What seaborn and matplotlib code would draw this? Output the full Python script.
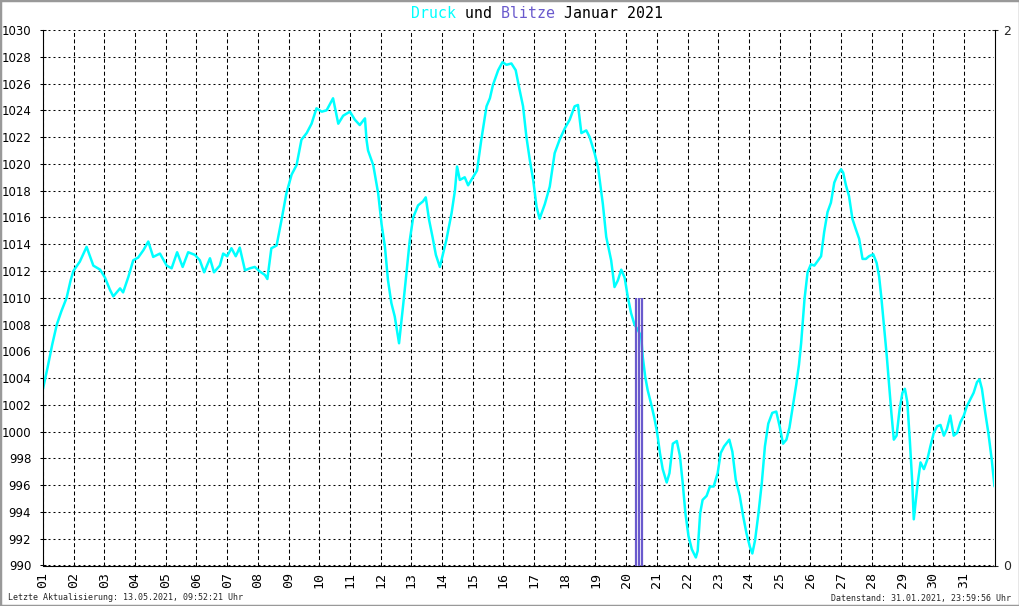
import matplotlib
matplotlib.use("Agg")
import matplotlib.pyplot as plt
import seaborn as sns
from matplotlib.patches import Rectangle

# Luftdruck (hPa), Zeit in Tagen seit 01.01.2021 00:00
druck_zeit = [
    0.00, 0.15, 0.30, 0.45, 0.60, 0.77, 0.90, 0.99, 1.20, 1.42, 1.64, 1.86,
    2.02, 2.18, 2.29, 2.51, 2.61, 2.78, 2.94, 3.10, 3.27, 3.43, 3.59, 3.81,
    4.03, 4.19, 4.37, 4.55, 4.73, 4.95, 5.11, 5.25, 5.44, 5.57, 5.76, 5.87,
    6.00, 6.14, 6.28, 6.41, 6.58, 6.74, 6.90, 7.07, 7.23, 7.31, 7.44, 7.61,
    7.77, 7.93, 8.10, 8.26, 8.42, 8.59, 8.75, 8.91, 9.08, 9.24, 9.45, 9.62,
    9.78, 10.00, 10.16, 10.32, 10.49, 10.54, 10.59, 10.76, 10.92, 11.03, 11.14, 11.24,
    11.35, 11.46, 11.60, 11.75, 11.95, 12.06, 12.22, 12.38, 12.47, 12.58, 12.69, 12.80,
    12.93, 13.14, 13.31, 13.42, 13.49, 13.58, 13.74, 13.85, 14.01, 14.14, 14.28, 14.45,
    14.56, 14.66, 14.83, 14.97, 15.10, 15.26, 15.40, 15.53, 15.64, 15.75, 15.86, 15.97,
    16.08, 16.18, 16.35, 16.51, 16.67, 16.83, 17.00, 17.16, 17.32, 17.43, 17.54, 17.70,
    17.81, 17.97, 18.08, 18.24, 18.35, 18.51, 18.62, 18.73, 18.84, 18.95, 19.05, 19.16,
    19.27, 19.38, 19.49, 19.54, 19.62, 19.70, 19.81, 19.92, 20.01, 20.10, 20.19, 20.32,
    20.41, 20.52, 20.65, 20.75, 20.84, 20.93, 21.03, 21.14, 21.27, 21.33, 21.41, 21.49,
    21.62, 21.73, 21.85, 21.98, 22.08, 22.19, 22.36, 22.46, 22.57, 22.70, 22.81, 22.92,
    23.03, 23.11, 23.20, 23.31, 23.42, 23.52, 23.63, 23.76, 23.89, 24.00, 24.11, 24.22,
    24.32, 24.43, 24.54, 24.63, 24.70, 24.81, 24.91, 25.02, 25.13, 25.24, 25.35, 25.45,
    25.56, 25.67, 25.78, 25.89, 26.00, 26.07, 26.16, 26.26, 26.37, 26.47, 26.59, 26.70,
    26.81, 26.91, 27.05, 27.16, 27.24, 27.31, 27.40, 27.49, 27.56, 27.64, 27.72, 27.81,
    27.91, 28.00, 28.08, 28.16, 28.24, 28.32, 28.37, 28.43, 28.50, 28.59, 28.70, 28.81,
    28.91, 29.02, 29.13, 29.24, 29.35, 29.45, 29.56, 29.67, 29.78, 29.89, 30.00, 30.10,
    30.21, 30.32, 30.43, 30.51, 30.59, 30.70, 30.80, 30.91, 31.00,
]
druck_hpa = [
    1003.2, 1004.8, 1006.5, 1008.0, 1009.0, 1010.0, 1011.3, 1012.0, 1012.7, 1013.8, 1012.4, 1012.1,
    1011.5, 1010.6, 1010.1, 1010.7, 1010.4, 1011.55, 1012.8, 1013.0, 1013.55, 1014.2, 1013.05, 1013.3,
    1012.4, 1012.2, 1013.4, 1012.3, 1013.4, 1013.2, 1012.8, 1011.9, 1012.95, 1011.9, 1012.4, 1013.3,
    1013.1, 1013.7, 1013.1, 1013.75, 1012.05, 1012.2, 1012.3, 1011.95, 1011.7, 1011.4, 1013.7, 1013.9,
    1015.8, 1017.8, 1019.2, 1019.9, 1021.8, 1022.3, 1023.0, 1024.15, 1023.9, 1024.0, 1024.9, 1023.0,
    1023.6, 1023.9, 1023.3, 1022.9, 1023.4, 1021.8, 1021.0, 1019.9, 1017.8, 1015.5, 1013.8, 1011.3,
    1009.6, 1008.6, 1006.6, 1009.8, 1014.3, 1016.0, 1016.9, 1017.2, 1017.5, 1015.8, 1014.55, 1013.2,
    1012.3, 1014.3, 1016.3, 1018.0, 1019.8, 1018.8, 1019.0, 1018.4, 1019.0, 1019.5, 1021.8, 1024.3,
    1024.9, 1025.9, 1027.0, 1027.6, 1027.4, 1027.5, 1027.0, 1025.5, 1024.3, 1022.0, 1020.3, 1018.8,
    1016.8, 1015.9, 1017.0, 1018.3, 1020.8, 1021.8, 1022.65, 1023.3, 1024.3, 1024.4, 1022.3, 1022.5,
    1022.0, 1020.8, 1019.8, 1017.0, 1014.55, 1012.8, 1010.8, 1011.3, 1012.1, 1011.5, 1010.1, 1008.85,
    1008.0, 1007.6, 1007.1, 1005.6, 1004.1, 1003.1, 1002.1, 1001.0, 999.9, 998.4, 997.2, 996.2,
    996.9, 999.1, 999.3, 998.2, 996.2, 993.9, 992.2, 991.2, 990.6, 991.1, 993.9, 994.9,
    995.2, 995.9, 995.9, 996.9, 998.4, 998.9, 999.4, 998.5, 996.4, 995.2, 993.7, 992.4,
    991.4, 990.9, 991.9, 993.9, 996.2, 998.9, 1000.6, 1001.4, 1001.5, 1000.4, 999.1, 999.4,
    1000.3, 1001.9, 1003.5, 1005.0, 1006.6, 1009.9, 1011.9, 1012.5, 1012.4, 1012.75, 1013.1, 1014.9,
    1016.4, 1017.1, 1018.6, 1019.2, 1019.6, 1019.35, 1018.4, 1017.6, 1015.9, 1015.2, 1014.4, 1012.9,
    1012.9, 1013.1, 1013.25, 1012.6, 1011.6, 1010.1, 1007.9, 1005.65, 1003.7, 1001.4, 999.4, 999.7,
    1001.7, 1002.9, 1003.2, 1002.2, 999.4, 996.2, 993.45, 994.7, 996.2, 997.7, 997.2, 997.9,
    998.9, 999.9, 1000.4, 1000.5, 999.7, 1000.2, 1001.2, 999.7, 999.9, 1000.7, 1001.2, 1001.9,
    1002.4, 1002.9, 1003.7, 1003.9, 1003.2, 1001.4, 999.9, 997.9, 995.9,
]

# Blitze (Anzahl), Zeit in Tagen seit 01.01.2021
blitz_zeit = [19.32, 19.43, 19.51]
blitz_anzahl = [1, 1, 1]

tag_labels = [f"{d:02d}" for d in range(1, 32)]
druck_ticks = list(range(990, 1031, 2))

CYAN = "#00ffff"
BLITZ = "#6a5acd"
MONO = "DejaVu Sans Mono"

sns.set_style("white")
plt.rcParams["font.family"] = ["DejaVu Sans"]

fig = plt.figure(figsize=(10.2, 6.06), dpi=100)
ax = fig.add_axes([43 / 1020, 40.5 / 606, 951.5 / 1020, 535.5 / 606])
ax2 = ax.twinx()

# --- Grid: waagerecht gepunktet, senkrecht gestrichelt ---
ax.set_axisbelow(True)
ax.grid(axis="y", color="black", linewidth=0.75, linestyle=(0, (1.9, 2.9)))
ax.grid(axis="x", color="black", linewidth=0.75, linestyle=(0, (3.8, 2.4)))

# --- Druck ---
sns.lineplot(x=druck_zeit, y=druck_hpa, ax=ax, color=CYAN, linewidth=1.8)

ax.set_xlim(0, 31)
ax.set_ylim(990, 1030)
ax.set_xticks(range(0, 31))
ax.set_xticklabels(tag_labels, rotation=90, family=MONO, fontsize=9.5)
ax.set_yticks(druck_ticks)
ax.set_yticklabels([str(v) for v in druck_ticks], fontsize=8.5)
ax.tick_params(axis="both", direction="inout", length=5, width=0.75, colors="black")
ax.tick_params(axis="y", pad=6)
ax.tick_params(axis="x", pad=2.5)

# --- Blitze ---
ax2.vlines(blitz_zeit, 0, blitz_anzahl, colors=BLITZ, linewidth=1.6)
ax2.set_ylim(0, 2)
ax2.set_yticks([0, 2])
ax2.set_yticklabels(["0", "2"], fontsize=9)
ax2.tick_params(axis="y", direction="inout", length=5, width=0.75, pad=4)

for a in (ax, ax2):
    a.spines["top"].set_visible(False)
    for side in ("left", "right", "bottom"):
        a.spines[side].set_color("black")
        a.spines[side].set_linewidth(0.8)
ax.spines["right"].set_visible(False)
ax2.spines["left"].set_visible(False)
ax2.spines["bottom"].set_visible(False)
ax.set_xlabel("")
ax.set_ylabel("")

# --- Titel (Monospace, Woerter einzeln eingefaerbt) ---
title = "Druck und Blitze Januar 2021"
parts = [("Druck", CYAN), ("und", "black"), ("Blitze", BLITZ), ("Januar 2021", "black")]
pos = 0
for word, col in parts:
    start = title.index(word, pos)
    masked = " " * start + word + " " * (len(title) - start - len(word))
    fig.text(411.5 / 1020, 1 - 13 / 606, masked, family=MONO, fontsize=10.75,
             color=col, ha="left", va="center")
    pos = start + len(word)

# --- Fusszeilen ---
fig.text(8 / 1020, 1 - 598 / 606, "Letzte Aktualisierung: 13.05.2021, 09:52:21 Uhr",
         family=MONO, fontsize=6, ha="left", va="center")
fig.text(1011 / 1020, 1 - 598 / 606, "Datenstand: 31.01.2021, 23:59:56 Uhr",
         family=MONO, fontsize=6, ha="right", va="center")

# --- Rahmen ---
fig.patches.append(Rectangle((0, 0), 1, 1, transform=fig.transFigure, fill=False,
                             edgecolor="#999999", linewidth=2.5))

fig.savefig("out.png", dpi=100)
